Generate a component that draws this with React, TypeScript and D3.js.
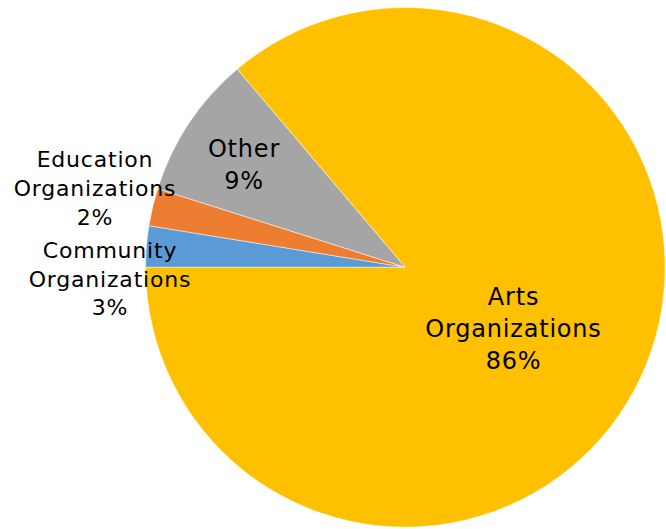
import React from "react";
import * as d3 from "d3";

const categories = ["Community Organizations", "Education Organizations", "Other", "Arts Organizations"];
const shares = [2.56, 2.33, 8.92, 86.19];
const labelNames = [["Community", "Organizations"], ["Education", "Organizations"], ["Other"], ["Arts", "Organizations"]];
const colors = ["#5B9BD5", "#ED7D31", "#A5A5A5", "#FFC000"];

// label layout (center x, first baseline y, line height, font size)
const labelLayout = [
  { x: 110, y: 258, lh: 28.7, fs: 22 },
  { x: 95, y: 166.5, lh: 29.2, fs: 22 },
  { x: 244, y: 157, lh: 32, fs: 24 },
  { x: 513.5, y: 305, lh: 32, fs: 24 },
];

const W = 666;
const H = 529;
const cx = 405.3;
const cy = 267.3;
const R = 259.8;

export default function App() {
  const pie = d3
    .pie<number>()
    .sort(null)
    .startAngle(1.5 * Math.PI)
    .endAngle(3.5 * Math.PI)
    .value((d) => d);
  const arcs = pie(shares);
  const total = d3.sum(shares);
  const arcGen = d3.arc<d3.PieArcDatum<number>>().innerRadius(0).outerRadius(R);
  return (
    <svg
      width={W}
      height={H}
      style={{ position: "absolute", left: 0, top: 0, background: "#fff" }}
      fontFamily="'DejaVu Sans', Verdana, sans-serif"
    >
      <g transform={`translate(${cx},${cy})`}>
        {arcs.map((a, i) => (
          <path key={categories[i]} d={arcGen(a) || ""} fill={colors[i]} stroke="#fff" strokeWidth={0.5} />
        ))}
      </g>
      {labelNames.map((names, i) => {
        const L = labelLayout[i];
        const lines = [...names, `${Math.round((shares[i] / total) * 100)}%`];
        return (
          <text key={categories[i]} textAnchor="middle" fontSize={L.fs} fill="#000" letterSpacing={0.8}>
            {lines.map((t, j) => (
              <tspan key={j} x={L.x} y={L.y + j * L.lh}>
                {t}
              </tspan>
            ))}
          </text>
        );
      })}
    </svg>
  );
}
